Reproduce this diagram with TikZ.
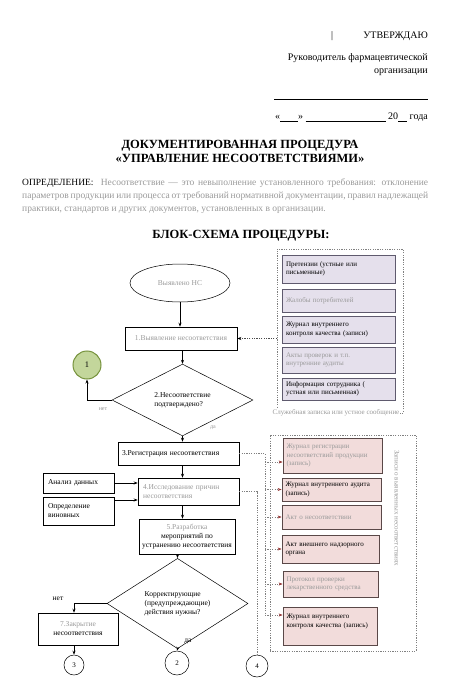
\documentclass[tikz,border=0pt]{standalone}
\usepackage{fontspec}
\setmainfont{Liberation Serif}
\usetikzlibrary{shapes.geometric,arrows.meta,calc}
\definecolor{lav}{HTML}{E5E0EC}
\definecolor{lavb}{HTML}{5F5A6E}
\definecolor{pnk}{HTML}{F2DCDB}
\definecolor{pnkb}{HTML}{5A4848}
\definecolor{grn}{HTML}{C3D69B}
\definecolor{grnb}{HTML}{76923C}
\definecolor{mar}{HTML}{953735}
\definecolor{blur}{gray}{0.6}
\begin{document}
\begin{tikzpicture}[x=1pt,y=-1pt,
  fc/.style={draw, line width=0.5pt, font=\fontsize{7.5}{9}\selectfont, inner sep=2pt, align=center},
  rbox/.style={fc, rectangle},
  pbox/.style={fc, rectangle, fill=lav, draw=lavb, line width=0.8pt, align=left, font=\fontsize{7}{8.6}\selectfont},
  kbox/.style={fc, rectangle, fill=pnk, draw=pnkb, line width=0.8pt, align=left, font=\fontsize{7}{8.6}\selectfont},
  dbox/.style={fc, diamond, inner sep=0pt, align=left},
  circ/.style={fc, circle, inner sep=0pt},
  bl/.style={text=blur},
  arr/.style={-{Stealth[length=4pt,width=3pt]}, line width=0.6pt},
  dotline/.style={draw=gray, line width=0.6pt, dash pattern=on 1.2pt off 1.2pt},
  darr/.style={dotline, draw=black!70, -{Stealth[length=4pt,width=3pt,color=black]}},
  marr/.style={dotline, -{Stealth[length=4pt,width=3pt,color=mar]}},
  grp/.style={draw=gray, line width=0.6pt, dash pattern=on 1.2pt off 1.2pt, rectangle, inner sep=0pt},
  lbl/.style={font=\fontsize{7.5}{9}\selectfont, inner sep=1pt}
]
\useasboundingbox (0,0) rectangle (448,700);

% ---------- header ----------
\node[font=\fontsize{10}{12}\selectfont, inner sep=0pt] (bar) at (332,36) {|};
\node[font=\fontsize{10}{12}\selectfont, anchor=east, inner sep=0pt] (utv) at (428,36) {УТВЕРЖДАЮ};
\node[font=\fontsize{10}{13}\selectfont, anchor=north east, align=right, inner sep=0pt] (ruk) at (428,53)
  {Руководитель фармацевтической\\организации};
\coordinate (sigL) at (274,99);
\coordinate (sigR) at (428,99);
\draw[line width=0.5pt] (sigL) -- (sigR);
\node[font=\fontsize{10}{12}\selectfont, anchor=east, inner sep=0pt] (date) at (428,117)
  {«\underline{\hspace{18pt}}» \underline{\hspace{80pt}} 20\underline{\hspace{9pt}} года};

% ---------- title ----------
\node[font=\bfseries\fontsize{12.5}{13.5}\selectfont, align=center, inner sep=0pt] (title) at (240,151.5)
  {ДОКУМЕНТИРОВАННАЯ ПРОЦЕДУРА\\«УПРАВЛЕНИЕ НЕСООТВЕТСТВИЯМИ»};

\node[font=\fontsize{9.5}{13}\selectfont, anchor=north west, text width=406pt, align=justify, inner sep=0pt] (def) at (22,179)
  {ОПРЕДЕЛЕНИЕ:\ \ {\color{blur}Несоответствие — это невыполнение установленного требования: отклонение параметров продукции или процесса от требований нормативной документации, правил надлежащей практики, стандартов и других документов, установленных в организации.}};

\node[font=\bfseries\fontsize{12.5}{13.5}\selectfont, inner sep=0pt] (bs) at (241,236) {БЛОК-СХЕМА ПРОЦЕДУРЫ:};

% ---------- main flow ----------
\node[fc, ellipse, minimum width=100pt, minimum height=38pt, inner sep=0pt] (e0) at (180,283) {\color{blur}Выявлено НС};
\node[rbox, minimum width=112pt, minimum height=23pt] (r1) at (181,338.5) {\color{blur}1.Выявление несоответствия};
\node[dbox, minimum width=141pt, minimum height=56pt] (d1) at (182.5,400) {2.Несоответствие\\подтверждено?};
\node[circ, fill=grn, draw=grnb, line width=1pt, minimum size=28pt, font=\fontsize{8.5}{10}\selectfont] (c1) at (87,365) {1};
\node[lbl, bl, font=\fontsize{6}{7}\selectfont] (no1) at (103,409) {нет};
\node[lbl, bl, font=\fontsize{6}{7}\selectfont] (yes1) at (213,428) {да};

\node[rbox, minimum width=121pt, minimum height=23pt, text width=113pt, align=left] (r3) at (178.5,453.5) {3.Регистрация несоответствия};
\node[rbox, minimum width=101pt, minimum height=27pt, text width=91pt, align=left] (r4) at (188.5,491.5) {\color{blur}4.Исследование причин\\несоответствия};
\node[rbox, minimum width=71pt, minimum height=20pt, text width=61pt, align=left] (a1) at (78.5,483) {Анализ данных};
\node[rbox, minimum width=71pt, minimum height=28pt, text width=61pt, align=left] (a2) at (78.5,511) {Определение\\виновных};
\node[rbox, minimum width=96pt, minimum height=35pt] (r5) at (187,536.5) {\color{blur}5.Разработка\\мероприятий по\\устранению несоответствия};
\node[dbox, minimum width=141pt, minimum height=59pt] (d2) at (177.5,603.5) {Корректирующие\\(предупреждающие)\\действия нужны?};
\node[lbl] (no2) at (58,599) {нет};
\node[lbl] (yes2) at (188,641) {да};
\node[rbox, minimum width=80pt, minimum height=32pt] (r6) at (78,629) {\color{blur}7.Закрытие\\несоответствия};
\node[circ, minimum size=20pt, font=\fontsize{7}{8}\selectfont] (c3) at (74,665) {3};
\node[circ, minimum size=24pt, font=\fontsize{7}{8}\selectfont] (c2) at (177,663) {2};
\node[circ, minimum size=22pt, font=\fontsize{7}{8}\selectfont] (c4) at (257,666) {4};

\draw[arr] (e0.south) -- (e0.south |- r1.north);
\draw[arr] (r1.south -| d1) -- (d1.north);
\draw[arr] (d1.west) -- (d1.west -| c1) -- (c1.south);
\draw[arr] (d1.south) -- (d1.south |- r3.north);
\draw[arr] (r3.south -| d1) -- (r4.north -| d1);
\draw[arr] (a1.east) -- (a1.east -| r4.west);
\coordinate (a2o) at ($(a2.east)+(0,-11)$);
\draw[arr] (a2o) -- (a2o -| r4.west);
\draw[arr] (r4.south -| d1) -- (r5.north -| d1);
\draw[arr] (r5.south -| d2) -- (d2.north);
\draw[arr] (d2.west) -| (r6.north -| c3);
\draw[arr] (r6.south -| c3) -- (c3.north);
\draw[arr] (d2.south) -- (c2.north);

% ---------- top right group ----------
\node[grp, minimum width=126pt, minimum height=164pt] (g1) at (340,331) {};
\node[pbox, minimum width=113pt, minimum height=28pt, text width=105pt] (pa) at (338.5,269) {Претензии (устные или\\письменные)};
\node[pbox, minimum width=113pt, minimum height=23pt, text width=105pt] (pb) at (338.5,300.5) {\color{blur}Жалобы потребителей};
\node[pbox, minimum width=113pt, minimum height=27pt, text width=105pt] (pc) at (338.5,329.5) {Журнал внутреннего\\контроля качества (записи)};
\node[pbox, minimum width=113pt, minimum height=26pt, text width=105pt] (pd) at (338.5,360) {\color{blur}Акты проверок и т.п.\\внутренние аудиты};
\node[pbox, minimum width=113pt, minimum height=22pt, text width=105pt] (pe) at (338.5,389) {Информация сотрудника (\\устная или письменная)};
\node[lbl, bl, fill=white, font=\fontsize{7}{8}\selectfont] (pf) at (336,413) {Служебная записка или устное сообщение};
\draw[darr] (g1.west |- r1.east) -- (r1.east);

% ---------- bottom right group ----------
\node[grp, minimum width=146pt, minimum height=216pt] (g2) at (343,543) {};
\node[kbox, minimum width=99pt, minimum height=35pt, text width=92pt] (k1) at (332.5,455.5) {\color{blur}Журнал регистрации\\несоответствий продукции\\(запись)};
\node[kbox, minimum width=99pt, minimum height=23pt, text width=92pt] (k2) at (331.5,489.5) {Журнал внутреннего аудита\\(запись)};
\node[kbox, minimum width=99pt, minimum height=24pt, text width=92pt] (k3) at (331.5,517) {\color{blur}Акт о несоответствии};
\node[kbox, minimum width=97pt, minimum height=28pt, text width=90pt] (k4) at (330.5,549) {Акт внешнего надзорного\\органа};
\node[kbox, minimum width=95pt, minimum height=26pt, text width=88pt] (k5) at (330.5,584) {\color{blur}Протокол проверки\\лекарственного средства};
\node[kbox, minimum width=94pt, minimum height=38pt, text width=87pt] (k6) at (330,626) {Журнал внутреннего\\контроля качества (запись)\\\strut};
\node[lbl, bl, rotate=-90, font=\fontsize{7}{8}\selectfont] (vt) at (397,508) {Записи о выявленных несоответствиях};

\coordinate (busTop) at (265,453.5);
\coordinate (t1) at ($(k1.west)+(0,6.5)$);
\coordinate (t6) at ($(k6.west)+(0,-11)$);
\draw[dotline] (r3.east) -- (busTop) -- (busTop |- t6);
\draw[marr] (t1 -| busTop) -- (t1);
\draw[marr] (k2.west -| busTop) -- (k2.west);
\draw[marr] (k3.west -| busTop) -- (k3.west);
\draw[marr] (k4.west -| busTop) -- (k4.west);
\draw[marr] (k5.west -| busTop) -- (k5.west);
\draw[marr] (t6 -| busTop) -- (t6);
\draw[dotline] (r4.east) -| (c4.north);
\end{tikzpicture}
\end{document}
